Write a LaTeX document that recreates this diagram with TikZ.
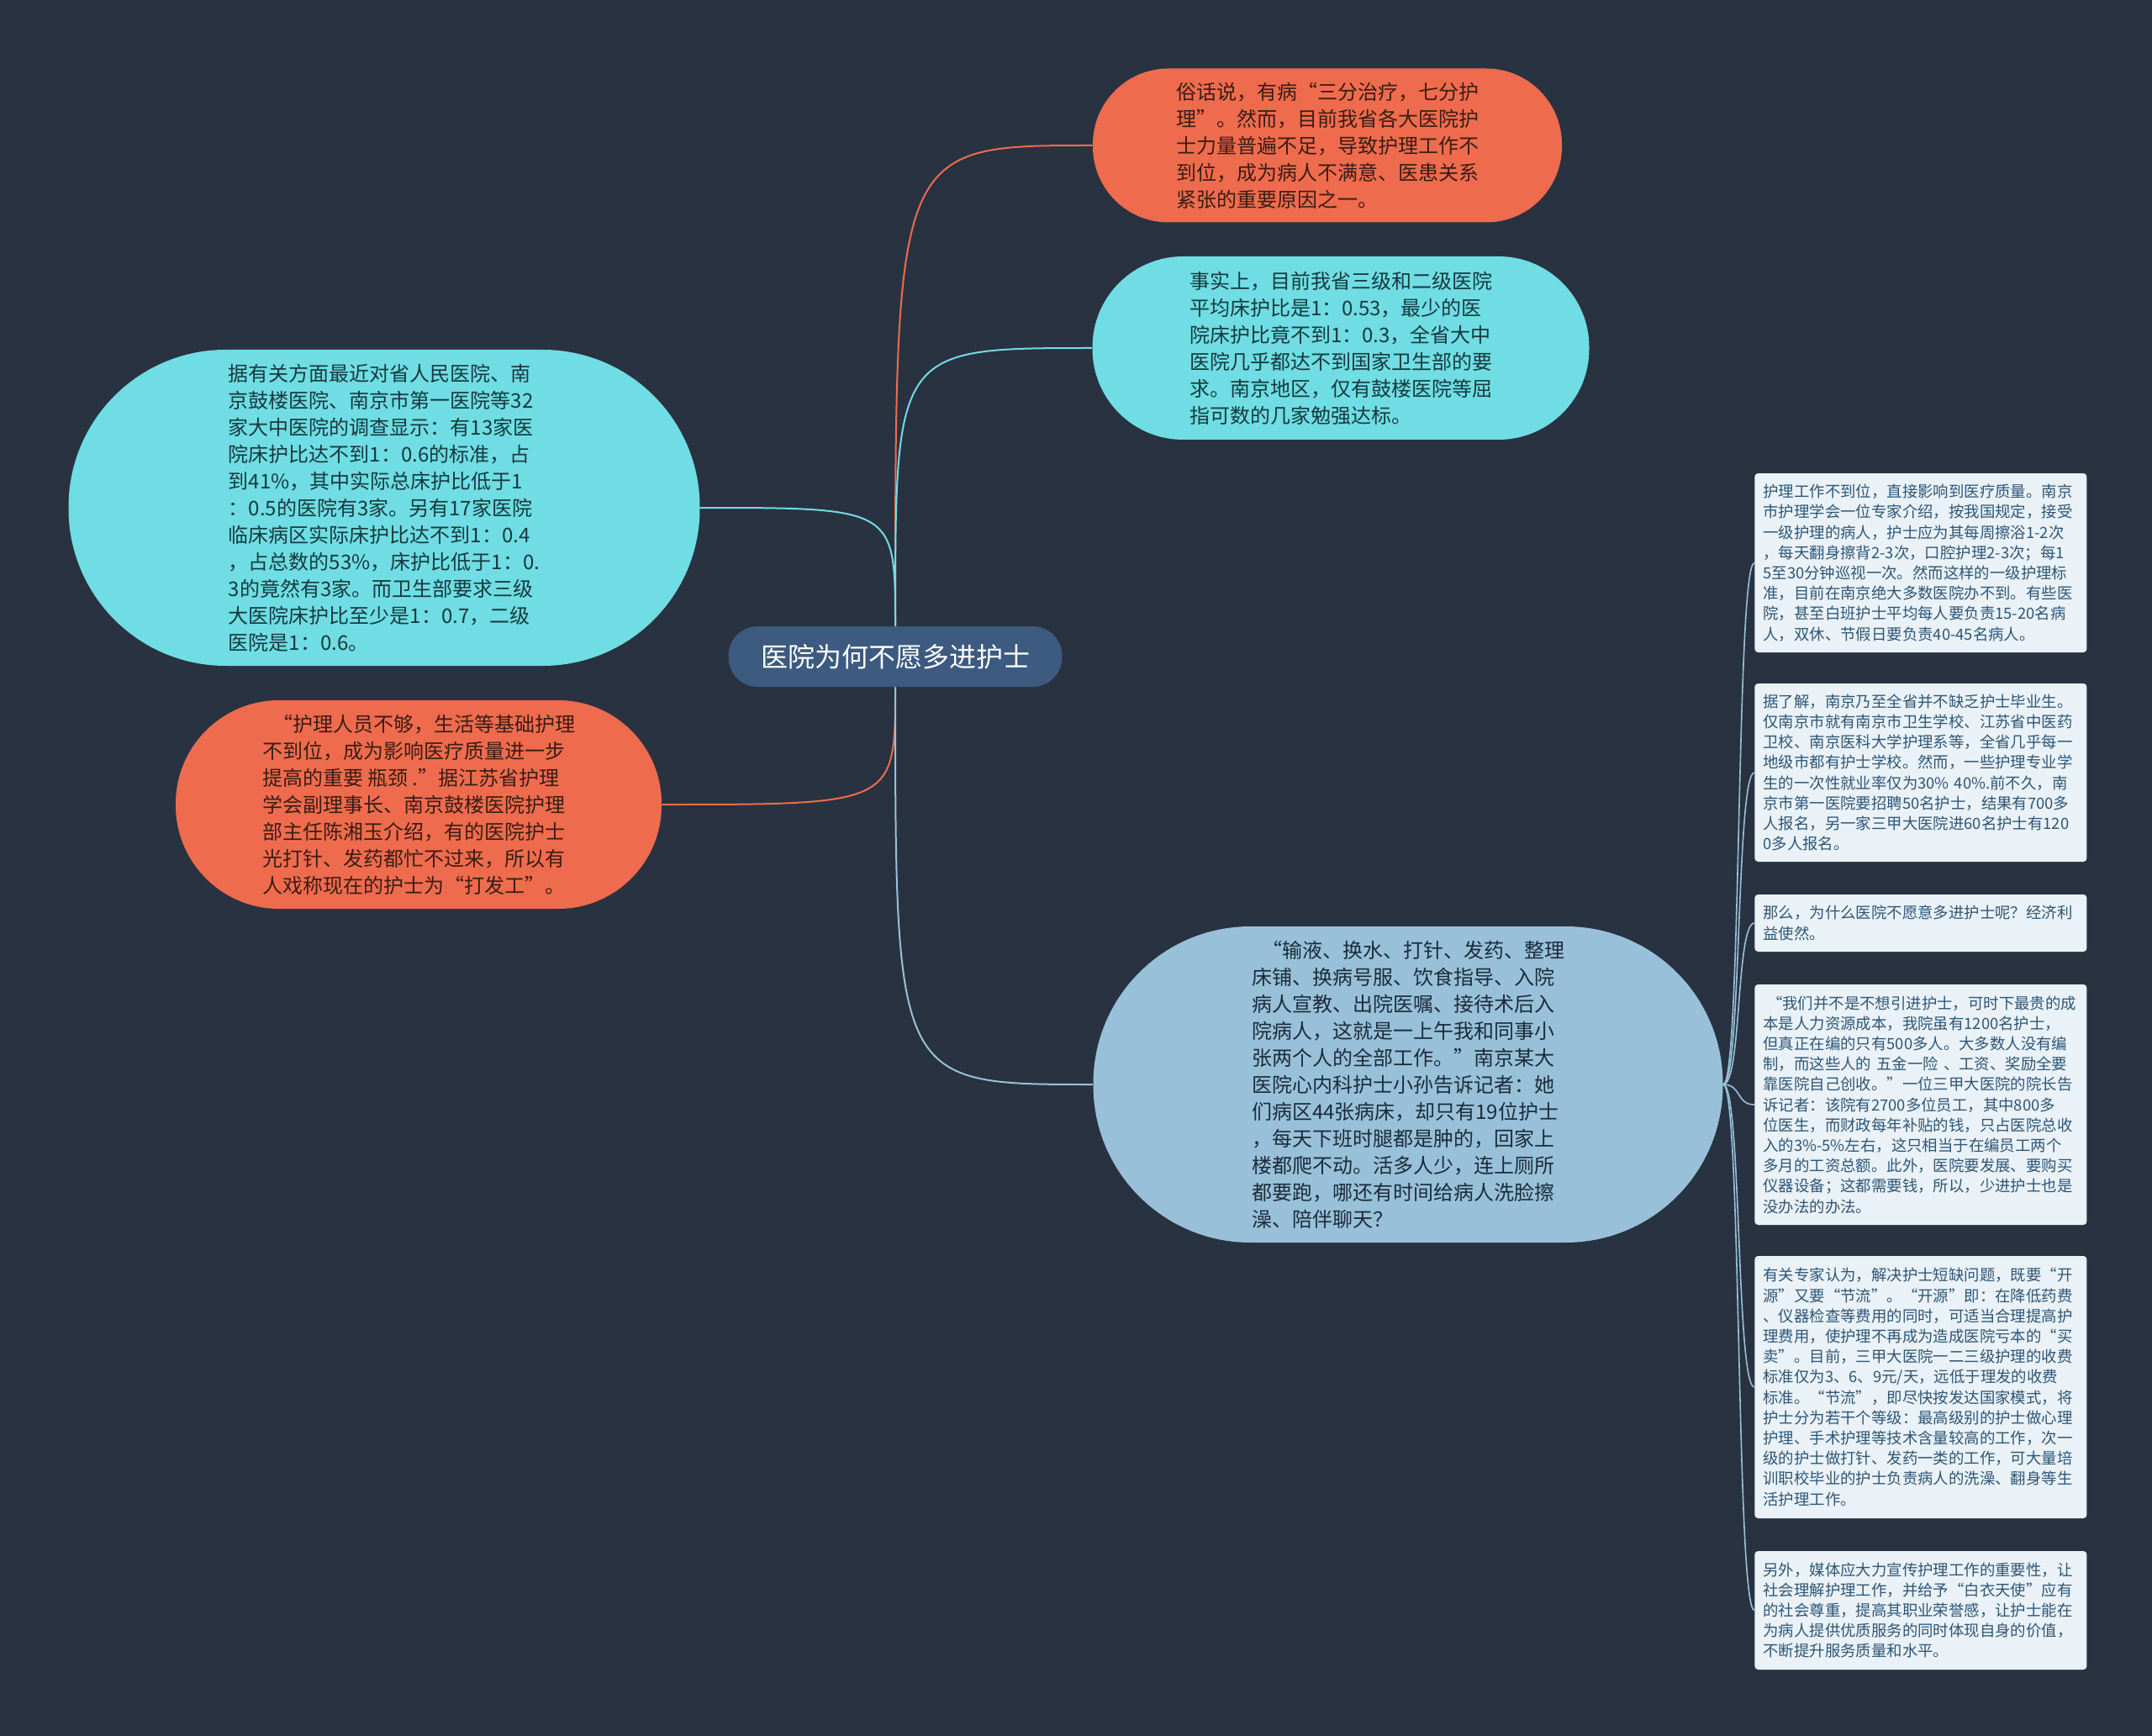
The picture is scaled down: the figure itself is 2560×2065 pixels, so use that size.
\documentclass[tikz,border=0pt]{standalone}
\usepackage{fontspec}
\setmainfont{Noto Sans CJK SC}
\definecolor{Canvas}{HTML}{293241}
\definecolor{HubBlue}{HTML}{3D5A80}
\definecolor{Coral}{HTML}{EE6C4D}
\definecolor{Aqua}{HTML}{6FDDE3}
\definecolor{Powder}{HTML}{98C1D9}
\definecolor{Mist}{HTML}{EAF2F7}
\definecolor{CoralText}{HTML}{3A1D16}
\definecolor{AquaText}{HTML}{163A3E}
\definecolor{PowderText}{HTML}{1C2B3A}
\definecolor{MistText}{HTML}{2E5677}

\begin{document}
\begin{tikzpicture}[x=0.5pt,y=-0.5pt,bubble/.style={align=left,inner sep=0pt,font=\fontsize{12pt}{16pt}\selectfont},tipbox/.style={fill=Mist,text=MistText,rounded corners=2pt,anchor=west,align=left,text width=187.5pt,inner xsep=5pt,inner ysep=6pt,font=\fontsize{9.2pt}{12.1pt}\selectfont},stem/.style={draw=#1,line width=1pt},twig/.style={draw=Powder,line width=0.8pt}]
\fill[Canvas] (0,0) rectangle (2560,2065);
\node[bubble,fill=HubBlue,text=white,font=\fontsize{16pt}{20pt}\selectfont,minimum width=198.5pt,minimum height=36pt,rounded corners=17.5pt] (hub) at (1065,781) {医院为何不愿多进护士};
\node[bubble,fill=Coral,text=CoralText,minimum width=279pt,minimum height=91.5pt,rounded corners=45pt] (n1) at (1579,173) {俗话说，有病“三分治疗，七分护\\理”。然而，目前我省各大医院护\\士力量普遍不足，导致护理工作不\\到位，成为病人不满意、医患关系\\紧张的重要原因之一。};
\node[bubble,fill=Aqua,text=AquaText,minimum width=295.5pt,minimum height=109pt,rounded corners=54pt] (n2) at (1595,414) {事实上，目前我省三级和二级医院\\平均床护比是1：0.53，最少的医\\院床护比竟不到1：0.3，全省大中\\医院几乎都达不到国家卫生部的要\\求。南京地区，仅有鼓楼医院等屈\\指可数的几家勉强达标。};
\node[bubble,fill=Aqua,text=AquaText,minimum width=375.5pt,minimum height=188pt,rounded corners=93.5pt] (n3) at (457,604) {据有关方面最近对省人民医院、南\\京鼓楼医院、南京市第一医院等32\\家大中医院的调查显示：有13家医\\院床护比达不到1：0.6的标准，占\\到41\%，其中实际总床护比低于1\\：0.5的医院有3家。另有17家医院\\临床病区实际床护比达不到1：0.4\\，占总数的53\%，床护比低于1：0.\\3的竟然有3家。而卫生部要求三级\\大医院床护比至少是1：0.7，二级\\医院是1：0.6。};
\node[bubble,fill=Coral,text=CoralText,minimum width=289pt,minimum height=124pt,rounded corners=61.5pt] (n4) at (498,957) {\hspace*{0.5em}“护理人员不够，生活等基础护理\\不到位，成为影响医疗质量进一步\\提高的重要 瓶颈 .”据江苏省护理\\学会副理事长、南京鼓楼医院护理\\部主任陈湘玉介绍，有的医院护士\\光打针、发药都忙不过来，所以有\\人戏称现在的护士为“打发工”。};
\node[bubble,fill=Powder,text=PowderText,minimum width=374.5pt,minimum height=188pt,rounded corners=93.5pt] (n5) at (1675,1290) {\hspace*{0.5em}“输液、换水、打针、发药、整理\\床铺、换病号服、饮食指导、入院\\病人宣教、出院医嘱、接待术后入\\院病人，这就是一上午我和同事小\\张两个人的全部工作。”南京某大\\医院心内科护士小孙告诉记者：她\\们病区44张病床，却只有19位护士\\，每天下班时腿都是肿的，回家上\\楼都爬不动。活多人少，连上厕所\\都要跑，哪还有时间给病人洗脸擦\\澡、陪伴聊天？};
\node[tipbox,minimum height=106.5pt] (b1) at (2087,669.5) {护理工作不到位，直接影响到医疗质量。南京\\市护理学会一位专家介绍，按我国规定，接受\\一级护理的病人，护士应为其每周擦浴1-2次\\，每天翻身擦背2-3次，口腔护理2-3次；每1\\5至30分钟巡视一次。然而这样的一级护理标\\准，目前在南京绝大多数医院办不到。有些医\\院，甚至白班护士平均每人要负责15-20名病\\人，双休、节假日要负责40-45名病人。};
\node[tipbox,minimum height=106pt] (b2) at (2087,919) {据了解，南京乃至全省并不缺乏护士毕业生。\\仅南京市就有南京市卫生学校、江苏省中医药\\卫校、南京医科大学护理系等，全省几乎每一\\地级市都有护士学校。然而，一些护理专业学\\生的一次性就业率仅为30\% 40\%.前不久，南\\京市第一医院要招聘50名护士，结果有700多\\人报名，另一家三甲大医院进60名护士有120\\0多人报名。};
\node[tipbox,minimum height=34pt] (b3) at (2087,1098) {那么，为什么医院不愿意多进护士呢？经济利\\益使然。};
\node[tipbox,minimum height=143pt] (b4) at (2087,1314) {\hspace*{0.25em}“我们并不是不想引进护士，可时下最贵的成\\本是人力资源成本，我院虽有1200名护士，\\但真正在编的只有500多人。大多数人没有编\\制，而这些人的 五金一险 、工资、奖励全要\\靠医院自己创收。”一位三甲大医院的院长告\\诉记者：该院有2700多位员工，其中800多\\位医生，而财政每年补贴的钱，只占医院总收\\入的3\%-5\%左右，这只相当于在编员工两个\\多月的工资总额。此外，医院要发展、要购买\\仪器设备；这都需要钱，所以，少进护士也是\\没办法的办法。};
\node[tipbox,minimum height=156pt] (b5) at (2087,1650) {有关专家认为，解决护士短缺问题，既要“开\\源”又要“节流”。“开源”即：在降低药费\\、仪器检查等费用的同时，可适当合理提高护\\理费用，使护理不再成为造成医院亏本的“买\\卖”。目前，三甲大医院一二三级护理的收费\\标准仅为3、6、9元/天，远低于理发的收费\\标准。“节流”，即尽快按发达国家模式，将\\护士分为若干个等级：最高级别的护士做心理\\护理、手术护理等技术含量较高的工作，次一\\级的护士做打针、发药一类的工作，可大量培\\训职校毕业的护士负责病人的洗澡、翻身等生\\活护理工作。};
\node[tipbox,minimum height=70.5pt] (b6) at (2087,1915.5) {另外，媒体应大力宣传护理工作的重要性，让\\社会理解护理工作，并给予“白衣天使”应有\\的社会尊重，提高其职业荣誉感，让护士能在\\为病人提供优质服务的同时体现自身的价值，\\不断提升服务质量和水平。};
\draw[stem=Coral] (hub.north) .. controls (hub.north |- n1.west) .. (n1.west);
\draw[stem=Aqua] (hub.north) .. controls (hub.north |- n2.west) .. (n2.west);
\draw[stem=Aqua] (hub.north) .. controls (hub.north |- n3.east) .. (n3.east);
\draw[stem=Coral] (hub.south) .. controls (hub.south |- n4.east) .. (n4.east);
\draw[stem=Powder] (hub.south) .. controls (hub.south |- n5.west) .. (n5.west);
\foreach \b in {b1,b2,b3,b4,b5,b6} \draw[twig] (n5.east) .. controls +(22,0) and +(-22,0) .. (\b.west);
\end{tikzpicture}
\end{document}
